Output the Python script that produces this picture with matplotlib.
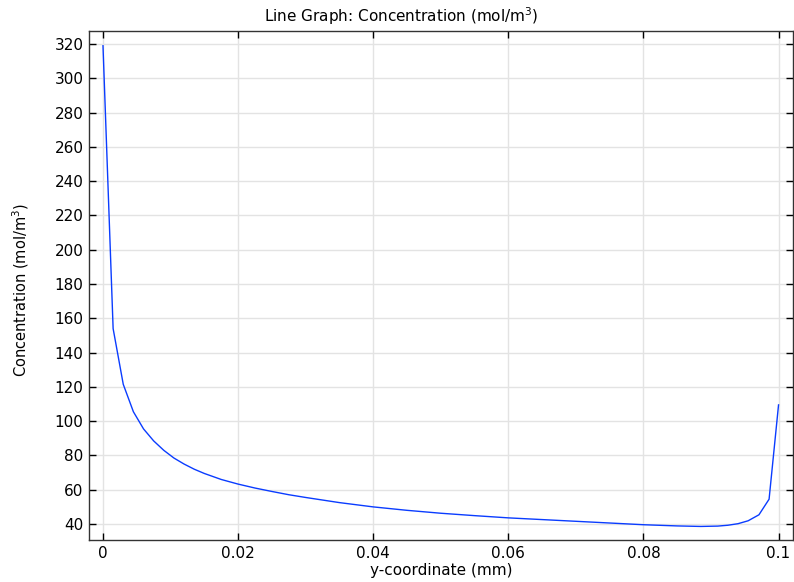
import numpy as np
import matplotlib
matplotlib.use("Agg")
import matplotlib.pyplot as plt

plt.rcParams["font.family"] = ["DejaVu Sans"]
plt.rcParams["mathtext.fontset"] = "dejavusans"

# values
y_coord = [0, 0.0015, 0.003, 0.0045, 0.006, 0.0075, 0.009, 0.0105, 0.012, 0.0135,
           0.015, 0.0175, 0.02, 0.0225, 0.025, 0.0275, 0.03, 0.035, 0.04, 0.045,
           0.05, 0.055, 0.06, 0.065, 0.07, 0.075, 0.08, 0.085, 0.0885, 0.091,
           0.0925, 0.094, 0.0955, 0.0971, 0.0986, 0.1]
conc = [319, 154, 121.5, 105.5, 95.5, 88.5, 83, 78.5, 75, 72,
        69.5, 66, 63.3, 61, 59, 57.1, 55.5, 52.5, 50, 48,
        46.3, 44.9, 43.6, 42.6, 41.6, 40.6, 39.6, 38.9, 38.6, 38.8,
        39.3, 40.2, 41.9, 45.4, 54.5, 109.5]

x_ticks = [0, 0.02, 0.04, 0.06, 0.08, 0.1]
x_tick_labels = ["0", "0.02", "0.04", "0.06", "0.08", "0.1"]
y_ticks = list(range(40, 321, 20))

fig = plt.figure(figsize=(7.94, 5.82), dpi=100)
ax = fig.add_axes([0.1121, 0.0722, 0.8863, 0.8745])

ax.plot(y_coord, conc, color="#0a3cff", linewidth=1.0)

ax.set_xlim(-0.00207, 0.1021)
ax.set_ylim(30.7, 327.6)
ax.set_xticks(x_ticks)
ax.set_xticklabels(x_tick_labels)
ax.set_yticks(y_ticks)

ax.grid(True, color="#e3e3e3", linewidth=1.0)
ax.set_axisbelow(True)
ax.tick_params(direction="in", length=5, width=1, top=True, right=True,
               labelsize=11, colors="black", pad=4)
for s in ax.spines.values():
    s.set_linewidth(1.0)
    s.set_color("#333333")

# title sits centred on the whole figure, not the axes
fig.text(0.505, 0.962, "Line Graph: Concentration (mol/m$^3$)", fontsize=11,
         ha="center", va="baseline")
ax.set_xlabel("y-coordinate (mm)", fontsize=11, labelpad=2)
ax.set_ylabel("Concentration (mol/m$^3$)", fontsize=10.5)
ax.yaxis.set_label_coords(-0.082, 0.49)

fig.savefig("out.png", dpi=100)
